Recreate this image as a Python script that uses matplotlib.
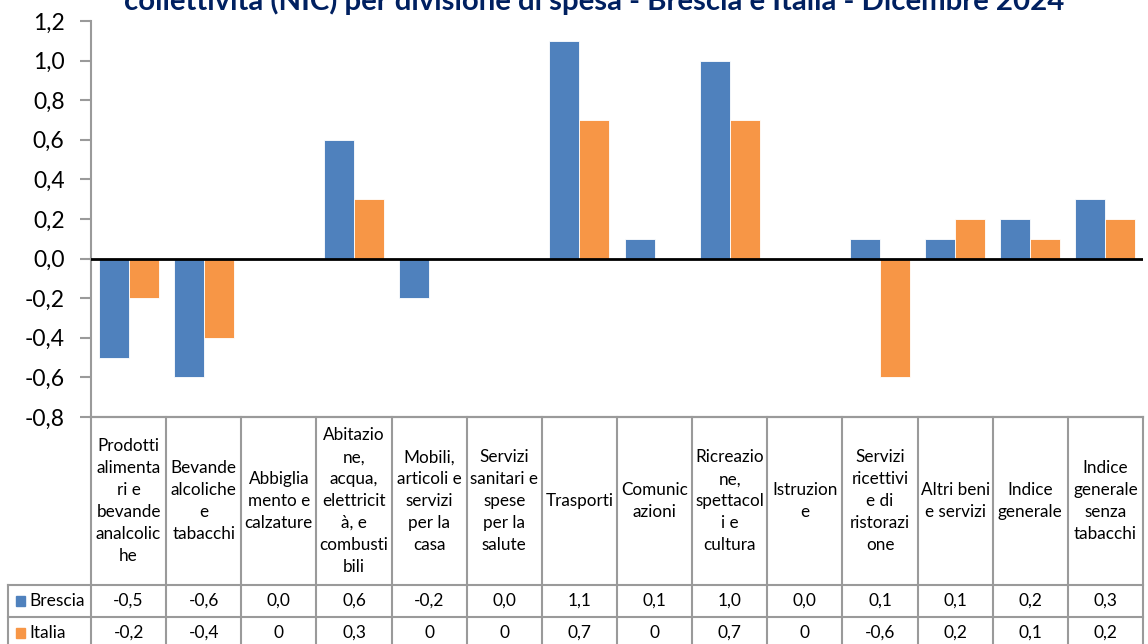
import matplotlib
matplotlib.use('Agg')
from matplotlib import pyplot as plt
from matplotlib.patches import Rectangle

plt.rcParams['font.family'] = ['Lato', 'DejaVu Sans']

# data
categorie = ['Prodotti\nalimenta\nri e\nbevande\nanalcolic\nhe',
             'Bevande\nalcoliche\ne\ntabacchi',
             'Abbiglia\nmento e\ncalzature',
             'Abitazio\nne,\nacqua,\nelettricit\nà, e\ncombusti\nbili',
             'Mobili,\narticoli e\nservizi\nper la\ncasa',
             'Servizi\nsanitari e\nspese\nper la\nsalute',
             'Trasporti',
             'Comunic\nazioni',
             'Ricreazio\nne,\nspettacol\ni e\ncultura',
             'Istruzion\ne',
             'Servizi\nricettivi\ne di\nristorazi\none',
             'Altri beni\ne servizi',
             'Indice\ngenerale',
             'Indice\ngenerale\nsenza\ntabacchi']
brescia = [-0.5, -0.6, 0.0, 0.6, -0.2, 0.0, 1.1, 0.1, 1.0, 0.0, 0.1, 0.1, 0.2, 0.3]
italia = [-0.2, -0.4, 0.0, 0.3, 0.0, 0.0, 0.7, 0.0, 0.7, 0.0, -0.6, 0.2, 0.1, 0.2]
brescia_lbl = ['-0,5', '-0,6', '0,0', '0,6', '-0,2', '0,0', '1,1', '0,1', '1,0', '0,0', '0,1', '0,1', '0,2', '0,3']
italia_lbl = ['-0,2', '-0,4', '0', '0,3', '0', '0', '0,7', '0', '0,7', '0', '-0,6', '0,2', '0,1', '0,2']
yticks = [-0.8, -0.6, -0.4, -0.2, 0.0, 0.2, 0.4, 0.6, 0.8, 1.0, 1.2]
titolo = 'collettività (NIC) per divisione di spesa - Brescia e Italia - Dicembre 2024'

blu = '#4F81BD'
arancio = '#F79646'
grigio = '#9A9A9A'

W, H = 1148, 644
fig = plt.figure(figsize=(W / 100, H / 100), dpi=100)

# main chart
ax = fig.add_axes([91 / W, 1 - 417 / H, (1143 - 91) / W, (417 - 21) / H])
n = len(categorie)
x = list(range(n))
bw = 0.4
ax.bar([i - bw / 2 for i in x], brescia, width=bw, color=blu, edgecolor='white', linewidth=0.6, zorder=2)
ax.bar([i + bw / 2 for i in x], italia, width=bw, color=arancio, edgecolor='white', linewidth=0.6, zorder=2)
ax.axhline(0, color='black', linewidth=2, zorder=3)
ax.set_xlim(-0.5, n - 0.5)
ax.set_ylim(-0.8, 1.2)
ax.set_yticks(yticks)
ax.set_yticklabels([('%.1f' % v).replace('.', ',') for v in yticks], fontsize=16.5)
ax.set_xticks([])
for s in ['top', 'right']:
    ax.spines[s].set_visible(False)
for s in ['left', 'bottom']:
    ax.spines[s].set_color(grigio)
    ax.spines[s].set_linewidth(1.5)
ax.tick_params(axis='y', direction='out', length=8, width=1.5, color=grigio, pad=11)

# data table
leg_w = (91 - 8) / 75.14
tax = fig.add_axes([8 / W, 1 - 649 / H, (1143 - 8) / W, (649 - 417) / H])
tax.set_xlim(-0.5 - leg_w, n - 0.5)
tax.set_ylim(0, 232)
tax.axis('off')
lk = dict(color=grigio, linewidth=1.5, clip_on=False)
# horizontal lines
tax.plot([-0.5, n - 0.5], [232, 232], **lk)
tax.plot([-0.5 - leg_w, n - 0.5], [64, 64], **lk)
tax.plot([-0.5 - leg_w, n - 0.5], [32, 32], **lk)
tax.plot([-0.5 - leg_w, n - 0.5], [0, 0], **lk)
# vertical lines
for i in range(n + 1):
    tax.plot([i - 0.5, i - 0.5], [0, 232], **lk)
tax.plot([-0.5 - leg_w, -0.5 - leg_w], [0, 64], **lk)

for i in x:
    tax.text(i, 148, categorie[i], ha='center', va='center', fontsize=12.3, linespacing=1.45)
    tax.text(i, 48, brescia_lbl[i], ha='center', va='center', fontsize=12.5)
    tax.text(i, 16, italia_lbl[i], ha='center', va='center', fontsize=12.5)

sq = 0.13
tax.add_patch(Rectangle((-0.5 - leg_w + 0.1, 48 - 5), sq, 10, color=blu, clip_on=False))
tax.add_patch(Rectangle((-0.5 - leg_w + 0.1, 16 - 5), sq, 10, color=arancio, clip_on=False))
tax.text(-0.5 - leg_w + 0.28, 48, 'Brescia', ha='left', va='center', fontsize=12.5)
tax.text(-0.5 - leg_w + 0.28, 16, 'Italia', ha='left', va='center', fontsize=12.5)

fig.text(594 / W, 1 - 10 / H, titolo, ha='center', va='baseline', fontsize=21.2,
         fontweight='bold', color='#002060')

fig.savefig('out.png', dpi=100)
